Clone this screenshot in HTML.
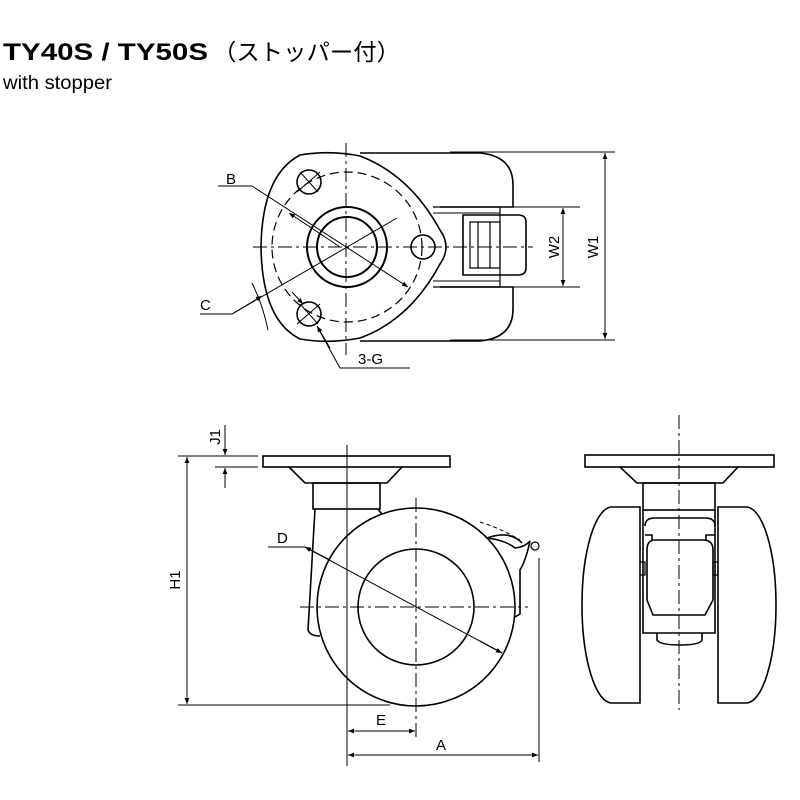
<!DOCTYPE html>
<html><head><meta charset="utf-8"><style>
html,body{margin:0;padding:0;background:#fff;width:800px;height:800px;overflow:hidden}
svg{display:block}
text{font-family:"Liberation Sans","Noto Sans CJK JP",sans-serif;fill:#000}
</style></head><body>
<svg width="800" height="800" viewBox="0 0 800 800" xmlns="http://www.w3.org/2000/svg">
<defs>
<marker id="ar" viewBox="0 0 10 10" refX="10" refY="5" markerWidth="8" markerHeight="6" orient="auto-start-reverse" markerUnits="userSpaceOnUse"><path d="M0,1 L10,5 L0,9 z" fill="#000"/></marker>
</defs>
<text x="3" y="60" font-size="24" font-weight="bold" textLength="205" lengthAdjust="spacingAndGlyphs">TY40S / TY50S</text>
<text x="213" y="60" font-size="23" textLength="187" lengthAdjust="spacingAndGlyphs">（ストッパー付）</text>
<text x="3" y="89" font-size="19" textLength="109" lengthAdjust="spacingAndGlyphs">with stopper</text>

<g fill="none" stroke="#000" stroke-width="1.6">
<path d="M360,153 L480,153 Q513,156 513,185 L513,207 L440,207"/>
<path d="M360,341 L480,341 Q513,338 513,309 L513,287 L440,287"/>
<path d="M433,207 L500,207 L500,287 L433,287" stroke-width="1.2"/>
<path d="M433,213 L500,213 M433,281 L500,281" stroke-width="1"/>
<path d="M463,215 L518,215 Q526,215 526,222 L526,268 Q526,275 518,275 L463,275 Z"/>
<path d="M470,222 L500,222 L500,268 L470,268 Z M478,222 L478,268 M490,222 L490,268" stroke-width="1.2"/>
<path d="M300,155 Q330,150 360,156 Q410,175 440,230 Q452,247 440,264 Q410,320 360,338 Q330,344 300,339 Q262,320 261,247 Q262,175 300,155 Z" fill="#fff"/>
<circle cx="347" cy="247" r="75" stroke-dasharray="9,5" stroke-width="1.2"/>
<circle cx="347" cy="247" r="40" stroke-width="2"/>
<circle cx="347" cy="247" r="30" stroke-width="2"/>
<circle cx="309" cy="182" r="12"/>
<circle cx="423" cy="247" r="12"/>
<circle cx="309" cy="314" r="12"/>
</g>
<g fill="none" stroke="#000" stroke-width="1">
<path d="M346,143 L346,355" stroke-dasharray="14,4,3,4"/>
<path d="M253,247 L533,247" stroke-dasharray="14,4,3,4"/>
<path d="M300,172 L318,192 M297,192 L320,172 M300,304 L318,324 M297,324 L320,304"/>
<path d="M218,186 L252,186"/>
<path d="M252,186 L408,287" marker-end="url(#ar)"/>
<path d="M340,247 L289,213" marker-end="url(#ar)"/>
<path d="M200,314 L232,314 L397,218"/>
<path d="M232,314 L262,296" marker-end="url(#ar)"/>
<path d="M252,283 Q263,305 268,330"/>
<path d="M410,368 L340,368 L318,328"/>
<path d="M330,348 L317,326" marker-end="url(#ar)"/>
<path d="M292,292 L303,304" marker-end="url(#ar)"/>
<path d="M450,152 L615,152 M450,340 L615,340 M513,207 L580,207 M513,287 L580,287"/>
<path d="M605,153 L605,339" marker-start="url(#ar)" marker-end="url(#ar)"/>
<path d="M563,208 L563,286" marker-start="url(#ar)" marker-end="url(#ar)"/>
</g>
<text x="226" y="184" font-size="15">B</text>
<text x="200" y="310" font-size="15">C</text>
<text x="358" y="364" font-size="15">3-G</text>
<text transform="translate(559,247) rotate(-90)" font-size="15" text-anchor="middle">W2</text>
<text transform="translate(598,247) rotate(-90)" font-size="15" text-anchor="middle">W1</text>

<g fill="none" stroke="#000" stroke-width="1.6">
<rect x="263" y="456" width="187" height="11"/>
<path d="M289,467 L305,483 L387,483 L402,467"/>
<rect x="313" y="483" width="67" height="26"/>
<path d="M315,509 L308,630 Q310,636 320,636 M378,509 L384,517"/>
<circle cx="416" cy="607" r="99" fill="#fff"/>
<circle cx="416" cy="607" r="58"/>
<path d="M487,538 Q505,540 515,548 Q525,547 530,541 Q526,560 520,570 L520,614 L515,617 M487,538 Q510,530 522,543"/>
<circle cx="535" cy="546" r="4" stroke-width="1.2"/>
<path d="M480,522 Q500,528 520,540" stroke-dasharray="4,3" stroke-width="1"/>
</g>
<g fill="none" stroke="#000" stroke-width="1">
<path d="M347,445 L347,766"/>
<path d="M416,498 L416,740" stroke-dasharray="14,4,3,4"/>
<path d="M300,607 L528,607" stroke-dasharray="14,4,3,4"/>
<path d="M178,456 L258,456 M215,467 L258,467 M178,705 L390,705"/>
<path d="M187,457 L187,704" marker-start="url(#ar)" marker-end="url(#ar)"/>
<path d="M225,425 L225,455" marker-end="url(#ar)"/>
<path d="M225,488 L225,468" marker-end="url(#ar)"/>
<path d="M268,547 L305,547 L502,653"/>
<path d="M305,547 L330,560" marker-start="url(#ar)"/>
<path d="M480,641 L502,653" marker-end="url(#ar)"/>
<path d="M348,731 L415,731" marker-start="url(#ar)" marker-end="url(#ar)"/>
<path d="M348,755 L538,755" marker-start="url(#ar)" marker-end="url(#ar)"/>
<path d="M539,558 L539,762"/>
</g>
<text x="277" y="543" font-size="15">D</text>
<text x="376" y="725" font-size="15">E</text>
<text x="436" y="750" font-size="15">A</text>
<text transform="translate(180,580) rotate(-90)" font-size="15" text-anchor="middle">H1</text>
<text transform="translate(220,437) rotate(-90)" font-size="15" text-anchor="middle">J1</text>

<g fill="none" stroke="#000" stroke-width="1.6">
<rect x="585" y="455" width="189" height="12"/>
<path d="M620,467 L637,483 L723,483 L738,467"/>
<rect x="643" y="483" width="72" height="27"/>
<path d="M640,507 L612,507 A30,98 0 0 0 612,703 L640,703 Z"/>
<path d="M718,507 L746,507 A30,98 0 0 1 746,703 L718,703 Z"/>
<path d="M643,510 L643,633 L715,633 L715,510"/>
<path d="M645,526 Q645,518 655,518 L705,518 Q715,518 715,526"/>
<path d="M645,535 L652,535 L652,540 M715,535 L706,535 L706,540"/>
<path d="M655,540 L703,540 Q713,540 713,550 L713,600 L705,615 L653,615 L647,600 L647,550 Q647,540 655,540 Z"/>
<path d="M657,633 L657,640 Q660,645 680,645 Q700,645 702,640 L702,633"/>
<path d="M640,562 L645,562 L645,575 L640,575 M718,562 L713,562 L713,575 L718,575" stroke-width="1.2"/>
</g>
<path d="M679,415 L679,710" fill="none" stroke="#000" stroke-width="1" stroke-dasharray="14,4,3,4"/>
</svg>
</body></html>
